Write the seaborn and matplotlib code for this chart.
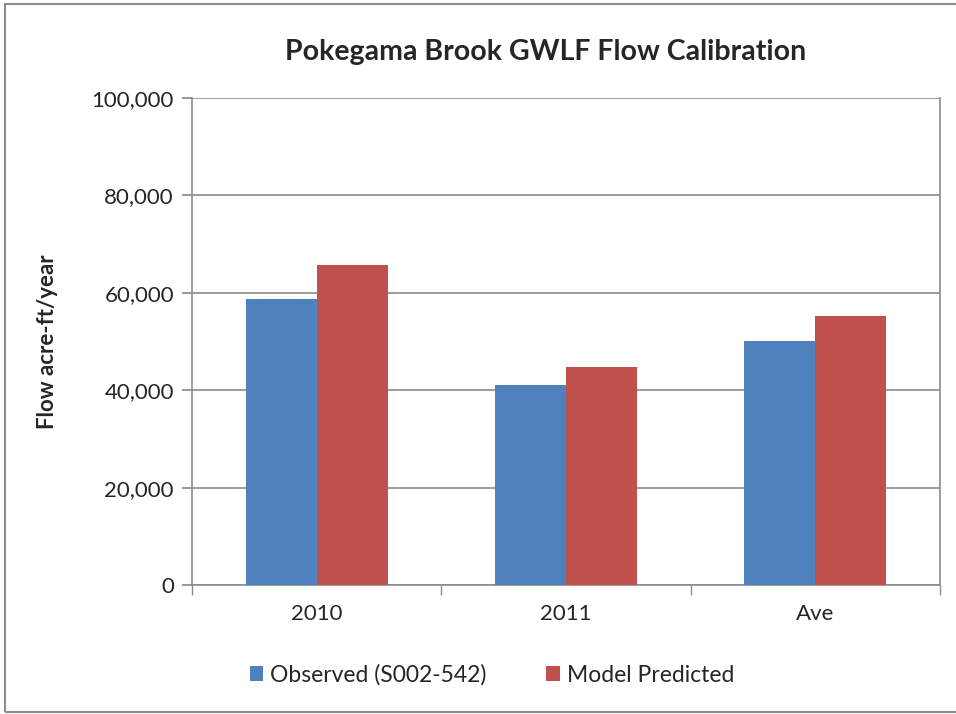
import matplotlib
matplotlib.use("Agg")
import matplotlib.pyplot as plt
import seaborn as sns
import pandas as pd
from matplotlib.patches import Rectangle
from matplotlib.ticker import FuncFormatter, FixedLocator

categories = ["2010", "2011", "Ave"]
observed = [58800, 41100, 50100]
predicted = [65800, 44800, 55300]
series_names = ["Observed (S002-542)", "Model Predicted"]
colors = ["#4F81BD", "#C0504D"]

df = pd.DataFrame({
    "period": categories * 2,
    "flow": observed + predicted,
    "series": [series_names[0]] * 3 + [series_names[1]] * 3,
})

sns.set_theme(style="white")
plt.rcParams["font.family"] = ["Lato", "DejaVu Sans"]

fig = plt.figure(figsize=(9.56, 7.14), dpi=100)
ax = fig.add_axes([192 / 956, 1 - 585 / 714, 748 / 956, 487 / 714])

sns.barplot(data=df, x="period", y="flow", hue="series", palette=colors,
            width=0.57, saturation=1, linewidth=0, ax=ax, legend=True, zorder=3)

ax.set_ylim(0, 100000)
ax.set_xlim(-0.5, 2.5)
ax.yaxis.set_major_locator(FixedLocator(range(0, 100001, 20000)))
ax.yaxis.set_major_formatter(FuncFormatter(lambda v, p: f"{int(v):,}"))
ax.grid(axis="y", color="#8c8c8c", linewidth=1.2, zorder=0)
ax.set_axisbelow(True)

for s in ["left", "bottom", "right"]:
    ax.spines[s].set_visible(True)
    ax.spines[s].set_color("#8c8c8c")
    ax.spines[s].set_linewidth(1.2)
ax.spines["top"].set_visible(False)

ax.tick_params(axis="y", direction="out", length=7, color="#8c8c8c",
               labelsize=16, pad=6, left=True)
ax.set_xticks([0, 1, 2])
ax.set_xticklabels(categories)
ax.set_xticks([-0.5, 0.5, 1.5, 2.5], minor=True)
ax.tick_params(axis="x", which="major", length=0, labelsize=16, pad=14)
ax.tick_params(axis="x", which="minor", direction="out", length=7,
               color="#8c8c8c", bottom=True)

ax.set_xlabel("")
ax.set_ylabel("Flow acre-ft/year", fontsize=16, fontweight="bold", labelpad=24)

fig.text(546 / 956, 1 - 52 / 714, "Pokegama Brook GWLF Flow Calibration",
         ha="center", va="center", fontsize=20.5, fontweight="bold")

ax.legend(loc="center", bbox_to_anchor=(492 / 956, 1 - 675 / 714),
          bbox_transform=fig.transFigure, ncol=2, frameon=False,
          fontsize=16.5, handlelength=0.6, handleheight=0.6,
          handletextpad=0.3, columnspacing=2.6, title=None)

fig.patches.append(Rectangle((5 / 956, 2 / 714), 960 / 956, 708 / 714,
                             transform=fig.transFigure, fill=False,
                             edgecolor="#8c8c8c", linewidth=1.5))

fig.savefig("out.png", dpi=100)
